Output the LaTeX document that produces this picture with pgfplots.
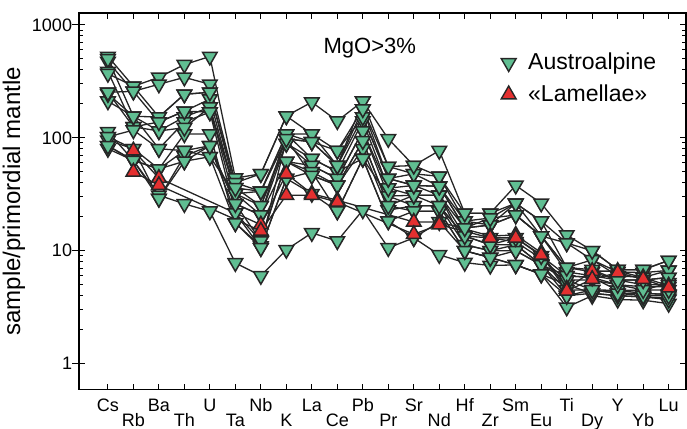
\documentclass[border=0pt]{standalone}
\usepackage{fontspec}
\setmainfont{Liberation Sans}
\usepackage{pgfplots}
\usepackage{pgfplotstable}
\pgfplotsset{compat=1.18}
\usetikzlibrary{calc}
\definecolor{mgreen}{RGB}{96,190,146}
\definecolor{mred}{RGB}{228,48,48}
\definecolor{edge}{RGB}{38,38,38}

% element order: Cs Rb Ba Th U Ta Nb K La Ce Pb Pr Sr Nd Hf Zr Sm Eu Ti Dy Y Yb Lu
\pgfplotstableread{
x  g1   g2   g3   g4   g5   g6   g7   g8   g9   g10  g11  g12  g13  g14  g15  g16
0  525  473  500  387  253  211  113  102  85   95   80   245  370  102  85   253
1  286  258  155  125  125  155  63   80   63   80   63   155  286  117  63   258
2  343  298  153  138  115  80   53   53   31   29   29   115  153  80   53   138
3  445  343  243  172  153  138  108  77   26   62   69   123  243  77   62   172
4  525  298  253  220  187  169  108  85   22.4 68   85   187  253  68   85   169
5  44   40   36   32   26   21.6 17.6 26   7.8  32   21.6 32   40   17.6 26   36
6  48   33.6 25   20.7 12.2 10.6 11   20.7 6.0  25   12.2 33.6 48   10.6 20.7 33.6
7  156  108  98   89   61.6 43.6 98   108  10.2 89   61.6 108  156  43.6 61.6 98
8  207  108  92   65.5 56.8 50   46.4 65.5 14.4 56.8 50   92   108  32   46.4 92
9  141  77   56.8 50   43.6 37.9 37.9 50   12.2 43.6 22.4 77   56.8 22.4 37.9 56.8
10 211  180  153  141  115  94   80   65.5 22.9 115  65.5 153  211  65.5 94   180
11 98   55.7 43.6 35.8 30.5 25   22.9 30.5 10.6 35.8 18.3 43.6 55.7 18.3 25   43.6
12 56.8 48   37.9 31   25   22.4 25   31   13   37.9 22.4 48   56.8 13   31   37.9
13 77   45.6 37.2 31   25   22.4 25   31   9.2  31   22.4 37.2 45.6 18   25   37.2
14 21.5 18.3 15.9 13.5 11.3 10   13.5 15.9 7.85 11.3 10   18.3 21.5 10   13.5 15.9
15 21.5 19.5 16.9 11.3 10   8.7  13   16.9 7.4  10   8.7  16.9 21.5 8.7  11.3 19.5
16 37.9 26.3 20.7 11.3 10   7.5  12   20.7 7.5  11.3 10   26.3 26.3 7.5  13   20.7
17 26.3 18.3 13.5 7.5  7.5  6.2  8.5  13.5 6.2  7.5  7.5  18.3 13.5 6.2  9    13.5
18 13.8 11.7 7.1  6.0  5.5  5.0  5.5  6.5  3.16 4.5  4.0  7.1  11.7 4.0  6.0  7.1
19 10   8.3  6.5  5.8  4.5  4.2  5.5  6.0  4.0  4.5  4.2  8.3  10   4.5  5.8  6.8
20 6.8  6.5  5.5  4.46 4.2  4.0  5    5.5  3.7  4.46 4.0  6.0  6.8  4.2  5    5.5
21 6.8  6.4  5.5  4.46 4.2  3.9  4.8  5    3.65 4.2  3.9  5.8  6.8  4    4.5  5.5
22 8.2  6.7  5.8  5.2  4.1  3.8  4.8  5.0  3.4  4.1  3.7  6.7  8.2  4.0  4.5  5.8
}\green

\pgfplotstableread{
x  r1   r2
1  77   50
2  44   38
6  17   15
7  48   31
8  32   31
9  28   27
12 18   14
13 18   17
15 13.5 13
16 13.8 13
17 9.6  9.2
18 4.6  4.4
19 6.6  5.6
20 6.6  6.4
21 5.8  5.6
22 4.9  4.7
}\red

\begin{document}
\begin{tikzpicture}
\begin{axis}[
  scale only axis,
  width=303pt, height=188pt,
  ymode=log, ymin=0.59, ymax=1274,
  xmin=-1.13, xmax=22.68,
  xtick={0,2,...,22},
  xticklabels={Cs,Ba,U,Nb,La,Pb,Sr,Hf,Sm,Ti,Y,Lu},
  extra x ticks={1,3,...,21},
  extra x tick labels={Rb,Th,Ta,K,Ce,Pr,Nd,Zr,Eu,Dy,Yb},
  extra x tick style={xticklabel style={yshift=-7.5pt}},
  xticklabel style={yshift=-1pt},
  ytick={1,10,100,1000},
  yticklabels={1,10,100,1000},
  extra y ticks={1,10,100,1000},
  extra y tick labels={},
  extra y tick style={tick align=outside, major tick length=3.5pt},
  tick label style={font=\fontsize{9}{10}\selectfont},
  /pgf/number format/assume math mode=true,
  tick align=inside,
  xtick pos=both, ytick pos=both,
  major tick length=3pt, minor tick length=2pt,
  every tick/.style={black, line width=0.5pt},
  axis line style={line width=0.7pt},
  ylabel={sample/primordial mantle},
  ylabel style={font=\fontsize{12}{14}\selectfont, at={(axis description cs:-0.0774,0.5)}, anchor=south},
  legend style={at={(rel axis cs:0.685,0.916)}, anchor=north west, draw=none, fill=none,
    font=\fontsize{11.5}{13}\selectfont, row sep=2pt,
    /tikz/every odd column/.append style={column sep=4pt}},
  legend cell align=left,
  clip=false,
]
\addlegendimage{only marks, mark=triangle*, mark size=4.3pt, mark options={rotate=180, fill=mgreen, draw=edge, line width=0.7pt}}
\addlegendentry{Austroalpine}
\addlegendimage{only marks, mark=triangle*, mark size=4.3pt, mark options={fill=mred, draw=edge, line width=0.7pt}}
\addlegendentry{«Lamellae»}

\pgfplotsinvokeforeach{1,...,16}{
  \addplot[forget plot, color=edge, line width=0.65pt, mark=triangle*, mark size=4.2pt,
    mark options={rotate=180, fill=mgreen, draw=edge, line width=0.75pt}]
    table[x=x, y=g#1] {\green};
}
\addplot[forget plot, color=edge, line width=0.65pt, mark=triangle*, mark size=4.2pt,
  mark options={fill=mred, draw=edge, line width=0.75pt}] table[x=x, y=r1] {\red};
\addplot[forget plot, color=edge, line width=0.65pt, mark=triangle*, mark size=4.2pt,
  mark options={fill=mred, draw=edge, line width=0.75pt}] table[x=x, y=r2] {\red};

\node[font=\fontsize{11}{13}\selectfont] at (rel axis cs:0.479,0.907) {MgO>3\%};
\end{axis}
\pgfresetboundingbox
\path[use as bounding box] ($(current axis.south west)+(-39.5pt,-19.5pt)$) rectangle ($(current axis.north east)+(0.5pt,6.5pt)$);
\end{tikzpicture}
\end{document}
